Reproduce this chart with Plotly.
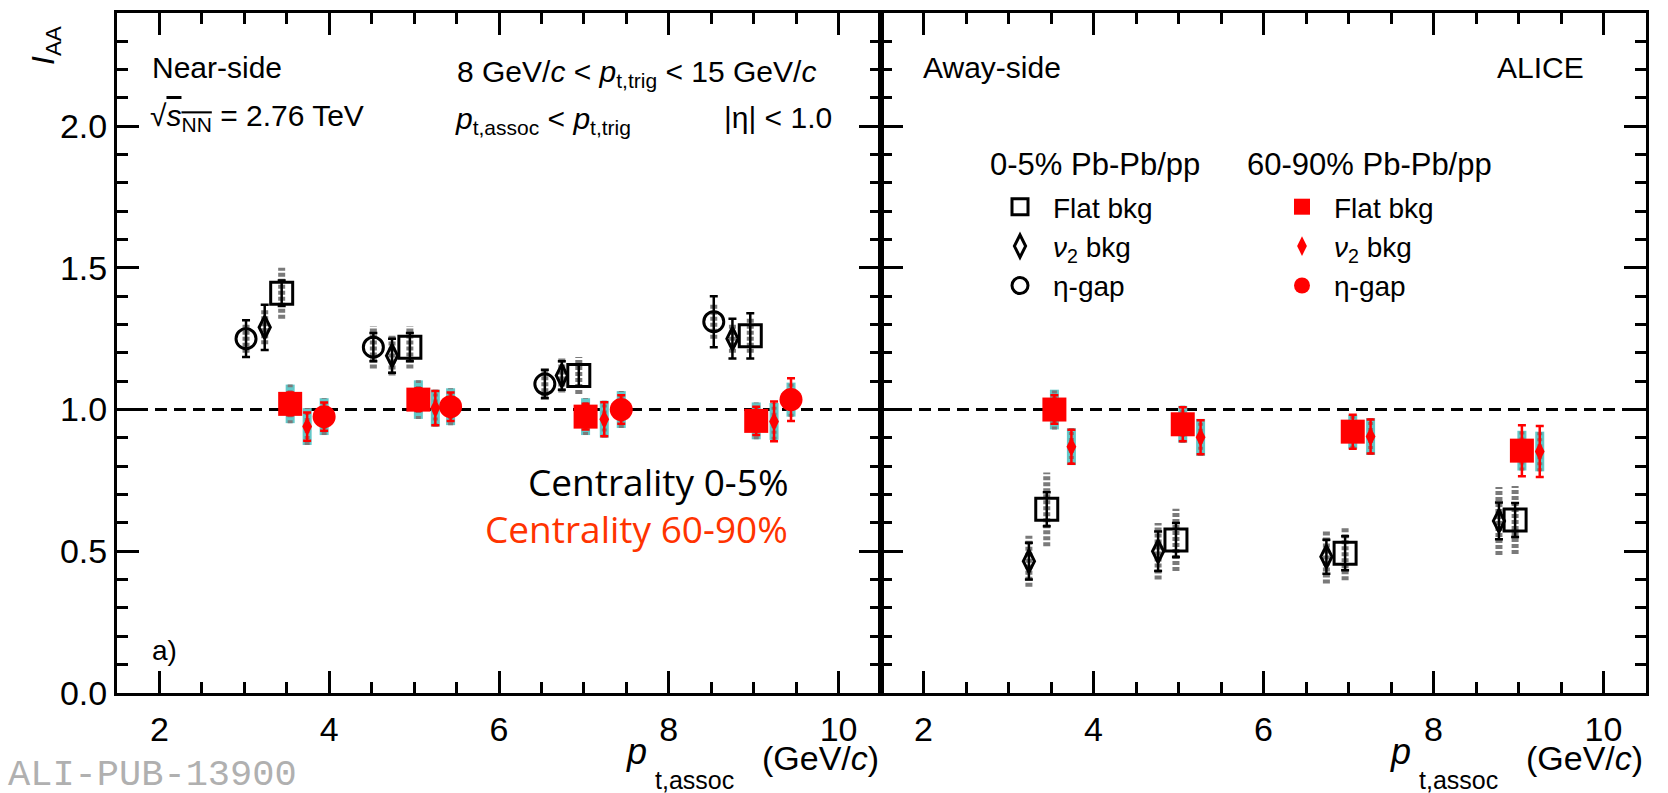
import plotly.graph_objects as go

W, H = 1668, 793

# ---------------- data ----------------
# Near-side, 0-5% Pb-Pb/pp
ns_c05_eta_x = [3.02, 4.52, 6.54, 8.53]
ns_c05_eta_y = [1.25, 1.22, 1.09, 1.31]
ns_c05_eta_stat = [0.065, 0.05, 0.05, 0.09]
ns_c05_eta_sys = [0.05, 0.075, 0.05, 0.06]

ns_c05_v2_x = [3.24, 4.74, 6.74, 8.75]
ns_c05_v2_y = [1.29, 1.19, 1.12, 1.25]
ns_c05_v2_stat = [0.08, 0.06, 0.05, 0.07]
ns_c05_v2_sys = [0.06, 0.07, 0.06, 0.05]

ns_c05_flat_x = [3.44, 4.95, 6.94, 8.96]
ns_c05_flat_y = [1.41, 1.22, 1.12, 1.26]
ns_c05_flat_stat = [0.045, 0.05, 0.04, 0.08]
ns_c05_flat_sys = [0.09, 0.075, 0.065, 0.06]

# Near-side, 60-90% Pb-Pb/pp
ns_c6090_flat_x = [3.54, 5.05, 7.02, 9.03]
ns_c6090_flat_y = [1.02, 1.035, 0.975, 0.96]
ns_c6090_flat_stat = [0.04, 0.04, 0.045, 0.05]
ns_c6090_flat_sys = [0.068, 0.068, 0.065, 0.065]

ns_c6090_v2_x = [3.74, 5.25, 7.24, 9.24]
ns_c6090_v2_y = [0.94, 1.005, 0.966, 0.958]
ns_c6090_v2_stat = [0.05, 0.06, 0.06, 0.07]
ns_c6090_v2_sys = [0.065, 0.065, 0.065, 0.065]

ns_c6090_eta_x = [3.94, 5.43, 7.44, 9.44]
ns_c6090_eta_y = [0.975, 1.01, 1.0, 1.035]
ns_c6090_eta_stat = [0.05, 0.05, 0.05, 0.075]
ns_c6090_eta_sys = [0.065, 0.065, 0.065, 0.06]

# Away-side, 0-5% Pb-Pb/pp
as_c05_v2_x = [3.24, 4.76, 6.74, 8.77]
as_c05_v2_y = [0.465, 0.50, 0.481, 0.607]
as_c05_v2_stat = [0.065, 0.07, 0.06, 0.065]
as_c05_v2_sys = [0.09, 0.10, 0.095, 0.12]

as_c05_flat_x = [3.45, 4.97, 6.96, 8.96]
as_c05_flat_y = [0.648, 0.54, 0.493, 0.61]
as_c05_flat_stat = [0.06, 0.06, 0.06, 0.06]
as_c05_flat_sys = [0.13, 0.11, 0.095, 0.12]

# Away-side, 60-90% Pb-Pb/pp
as_c6090_flat_x = [3.54, 5.05, 7.05, 9.04]
as_c6090_flat_y = [1.0, 0.948, 0.922, 0.855]
as_c6090_flat_stat = [0.05, 0.06, 0.06, 0.09]
as_c6090_flat_sys = [0.07, 0.065, 0.06, 0.07]

as_c6090_v2_x = [3.74, 5.26, 7.26, 9.25]
as_c6090_v2_y = [0.869, 0.902, 0.905, 0.852]
as_c6090_v2_stat = [0.06, 0.06, 0.06, 0.09]
as_c6090_v2_sys = [0.065, 0.065, 0.065, 0.07]

x_tick_vals = [2, 4, 6, 8, 10]
y_tick_vals = [0.0, 0.5, 1.0, 1.5, 2.0]
y_tick_text = ["0.0", "0.5", "1.0", "1.5", "2.0"]

# ---------------- styling ----------------
FONT = "Liberation Sans"
BLACK = "#000000"
RED = "#ff0000"
GREY = "#7a7a7a"
CYAN = "#62c8c8"

X0, XM, X1 = 117 / W, 881 / W, 1646 / W
Y0, Y1 = 1 - 693 / H, 1 - 12.7 / H


def px(x, y):
    return x / W, 1 - y / H


fig = go.Figure()


def sys_xy(xs, ys, ss):
    bx, by = [], []
    for xv, yv, sv in zip(xs, ys, ss):
        bx += [xv, xv, None]
        by += [yv - sv, yv + sv, None]
    return bx, by


def add_sys(xs, ys, ss, axis, red):
    bx, by = sys_xy(xs, ys, ss)
    xa, ya = axis
    if red:
        fig.add_trace(go.Scatter(x=bx, y=by, mode="lines", xaxis=xa, yaxis=ya,
                                 line=dict(color=CYAN, width=9),
                                 showlegend=False, hoverinfo="skip"))
        fig.add_trace(go.Scatter(x=bx, y=by, mode="lines", xaxis=xa, yaxis=ya,
                                 line=dict(color=GREY, width=5, dash="3px,3px"),
                                 showlegend=False, hoverinfo="skip"))
    else:
        fig.add_trace(go.Scatter(x=bx, y=by, mode="lines", xaxis=xa, yaxis=ya,
                                 line=dict(color=GREY, width=7, dash="4px,2px"),
                                 showlegend=False, hoverinfo="skip"))


def add_pts(xs, ys, st, axis, symbol, size, color, lw, name=None, legend=None):
    xa, ya = axis
    fig.add_trace(go.Scatter(
        x=xs, y=ys, mode="markers", xaxis=xa, yaxis=ya,
        marker=dict(symbol=symbol, size=size, color=color,
                    line=dict(color=color, width=lw)),
        error_y=dict(type="data", array=st, color=color, thickness=2.5, width=4),
        name=name if name else "", showlegend=name is not None,
        legend=legend if legend else "legend"))


L = ("x", "y")
R = ("x2", "y2")

series = [
    # (x, y, stat, sys, axis, symbol, size, color, lw, red, legendname, legend)
    (ns_c05_flat_x, ns_c05_flat_y, ns_c05_flat_stat, ns_c05_flat_sys, L, "square-open", 22, BLACK, 3, False, "Flat bkg", "legend"),
    (ns_c05_v2_x, ns_c05_v2_y, ns_c05_v2_stat, ns_c05_v2_sys, L, "diamond-tall-open", 16, BLACK, 3, False, "<i>\u03bd</i><sub>2</sub> bkg", "legend"),
    (ns_c05_eta_x, ns_c05_eta_y, ns_c05_eta_stat, ns_c05_eta_sys, L, "circle-open", 20, BLACK, 3, False, "\u03b7-gap", "legend"),
    (ns_c6090_flat_x, ns_c6090_flat_y, ns_c6090_flat_stat, ns_c6090_flat_sys, L, "square", 24, RED, 0, True, "Flat bkg", "legend2"),
    (ns_c6090_v2_x, ns_c6090_v2_y, ns_c6090_v2_stat, ns_c6090_v2_sys, L, "diamond-tall", 14, RED, 0, True, "<i>\u03bd</i><sub>2</sub> bkg", "legend2"),
    (ns_c6090_eta_x, ns_c6090_eta_y, ns_c6090_eta_stat, ns_c6090_eta_sys, L, "circle", 23, RED, 0, True, "\u03b7-gap", "legend2"),
    (as_c05_v2_x, as_c05_v2_y, as_c05_v2_stat, as_c05_v2_sys, R, "diamond-tall-open", 16, BLACK, 3, False, None, None),
    (as_c05_flat_x, as_c05_flat_y, as_c05_flat_stat, as_c05_flat_sys, R, "square-open", 22, BLACK, 3, False, None, None),
    (as_c6090_flat_x, as_c6090_flat_y, as_c6090_flat_stat, as_c6090_flat_sys, R, "square", 24, RED, 0, True, None, None),
    (as_c6090_v2_x, as_c6090_v2_y, as_c6090_v2_stat, as_c6090_v2_sys, R, "diamond-tall", 14, RED, 0, True, None, None),
]

for s in series:
    add_sys(s[0], s[1], s[3], s[4], s[9])
for s in series:
    add_pts(s[0], s[1], s[2], s[4], s[5], s[6], s[7], s[8], s[10], s[11])

# reference line at 1
for xr, yr in [("x domain", "y"), ("x2 domain", "y2")]:
    fig.add_shape(type="line", xref=xr, yref=yr, x0=0, x1=1, y0=1, y1=1,
                  line=dict(color=BLACK, width=3, dash="12px,7px"), layer="below")

xaxis_common = dict(
    range=[1.5, 10.5], tickmode="array", tickvals=x_tick_vals,
    ticks="inside", ticklen=22, tickwidth=3, tickcolor=BLACK,
    showline=True, linewidth=3, linecolor=BLACK, mirror="allticks",
    showgrid=False, zeroline=False, automargin=False,
    tickfont=dict(family=FONT, size=34, color=BLACK),
    minor=dict(dtick=0.5, tick0=0, ticks="inside", ticklen=11, tickwidth=2.5, tickcolor=BLACK, showgrid=False),
    ticklabelstandoff=4,
)
yaxis_common = dict(
    range=[0, 2.4], tickmode="array", tickvals=y_tick_vals, ticktext=y_tick_text,
    ticks="inside", ticklen=22, tickwidth=3, tickcolor=BLACK,
    showline=True, linewidth=3, linecolor=BLACK, mirror="allticks",
    showgrid=False, zeroline=False, automargin=False,
    tickfont=dict(family=FONT, size=34, color=BLACK),
    minor=dict(dtick=0.1, tick0=0, ticks="inside", ticklen=11, tickwidth=2.5, tickcolor=BLACK, showgrid=False),
    domain=[Y0, Y1], ticklabelstandoff=0,
)

LEG_FONT = dict(family=FONT, size=28, color=BLACK)
fig.update_layout(
    width=W, height=H, margin=dict(l=0, r=0, t=0, b=0, autoexpand=False),
    paper_bgcolor="white", plot_bgcolor="white",
    font=dict(family=FONT, color=BLACK),
    xaxis=dict(domain=[X0, XM], anchor="y", **xaxis_common),
    xaxis2=dict(domain=[XM, X1], anchor="y2", **xaxis_common),
    yaxis=dict(anchor="x", **yaxis_common),
    yaxis2=dict(anchor="x2", showticklabels=False, **yaxis_common),
    legend=dict(x=px(987, 0)[0], y=px(0, 182)[1], xanchor="left", yanchor="top",
                bgcolor="rgba(0,0,0,0)", font=LEG_FONT, itemwidth=56, tracegroupgap=0),
    legend2=dict(x=px(1270, 0)[0], y=px(0, 182)[1], xanchor="left", yanchor="top",
                 bgcolor="rgba(0,0,0,0)", font=LEG_FONT, itemwidth=54, tracegroupgap=0),
)


def ann(text, x, y, size=30, xanchor="left", color=BLACK, family=FONT, angle=0):
    ax, ay = px(x, y)
    fig.add_annotation(text=text, x=ax, y=ay, xref="paper", yref="paper",
                       xanchor=xanchor, yanchor="middle", showarrow=False,
                       textangle=angle, font=dict(family=family, size=size, color=color))


ann("Near-side", 150, 68)
ann("\u221A<span style='text-decoration:overline'><i>s</i><sub>NN</sub></span> = 2.76 TeV", 148, 118)
ann("8 GeV/<i>c</i> &lt; <i>p</i><sub>t,trig</sub> &lt; 15 GeV/<i>c</i>", 455, 74)
ann("<i>p</i><sub>t,assoc</sub> &lt; <i>p</i><sub>t,trig</sub>", 453, 120)
ann("|\u03b7| &lt; 1.0", 722, 118)
ann("Away-side", 921, 68)
ann("ALICE", 1586, 68, xanchor="right")
ann("0-5% Pb-Pb/pp", 988, 164, size=31)
ann("60-90% Pb-Pb/pp", 1245, 164, size=31)
ann("a)", 150, 650, size=28)
ann("Centrality 0-5%", 790, 481, size=37, xanchor="right", family="Open Sans")
ann("Centrality 60-90%", 790, 528, size=37, xanchor="right", color="#ff3300", family="Open Sans")
ann("ALI-PUB-13900", 6, 775, size=37, color="#b0b0b0", family="Liberation Mono")

# x-axis titles (p, subscript and unit placed as in the reference)
for off in [0, 764]:
    ann("<i>p</i>", 624 + off, 751, size=36)
    ann("t,assoc", 653 + off, 780, size=25)
    ann("(GeV/<i>c</i>)", 881 + off, 758, size=34, xanchor="right")

ann("<i>I</i><sub>AA</sub>", 46, 46, size=32, xanchor="center", angle=-90)

fig.write_html("out.html")
